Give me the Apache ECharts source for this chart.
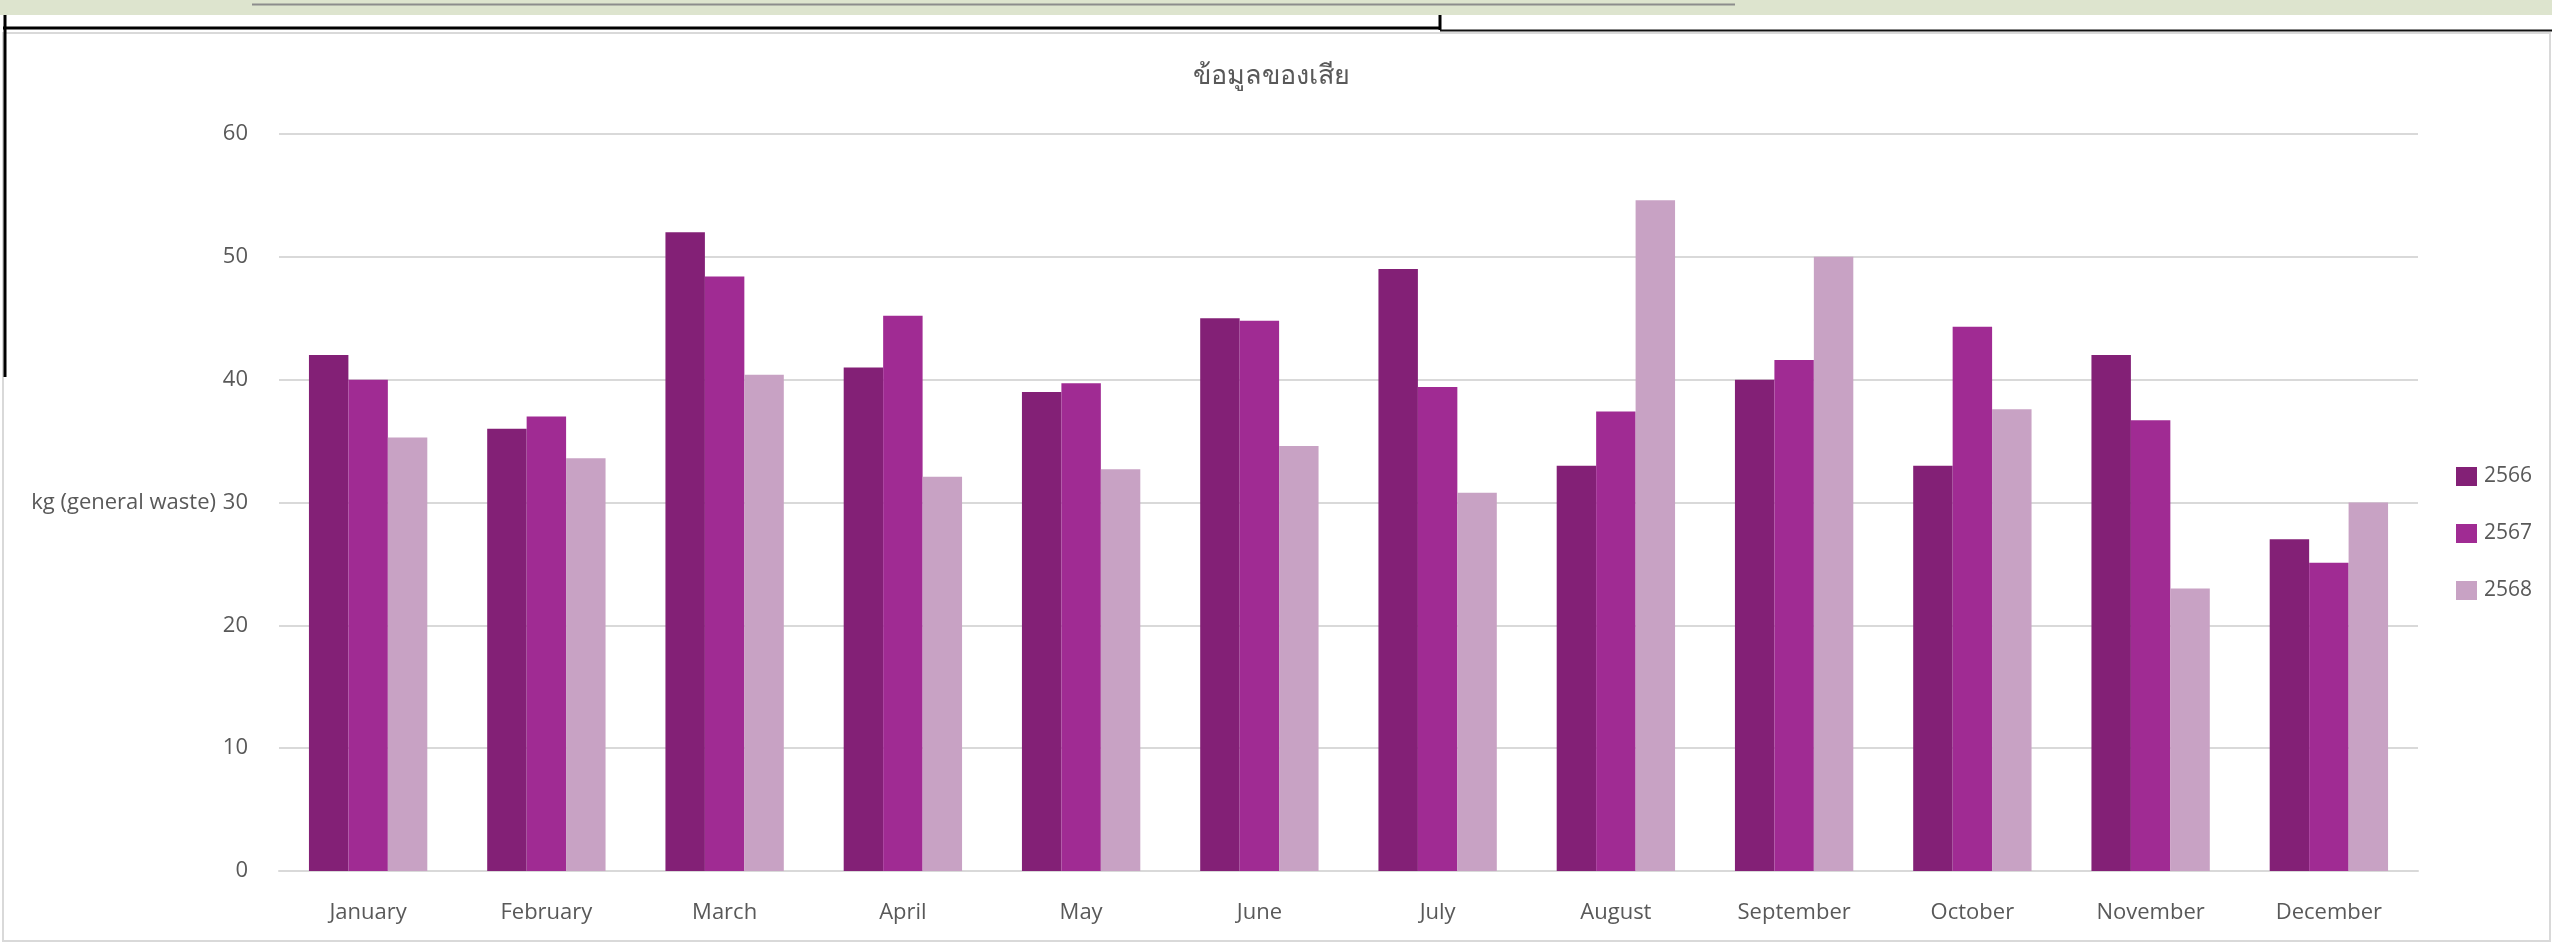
<!DOCTYPE html>
<html>
<head>
<meta charset="utf-8">
<script src="https://cdn.jsdelivr.net/npm/echarts@6/dist/echarts.min.js"></script>
<style>
html,body{margin:0;padding:0;background:#fff;}
#chart{width:2552px;height:946px;}
</style>
</head>
<body>
<div id="chart"></div>
<script>
const titleText = 'ข้อมูลของเสีย';
const yAxisTitle = 'kg (general waste)';
const months = ['January','February','March','April','May','June','July','August','September','October','November','December'];
const seriesNames = ['2566','2567','2568'];
const values2566 = [42, 36, 52, 41, 39, 45, 49, 33, 40, 33, 42, 27];
const values2567 = [40, 37, 48.4, 45.2, 39.7, 44.8, 39.4, 37.4, 41.6, 44.3, 36.7, 25.1];
const values2568 = [35.3, 33.6, 40.4, 32.1, 32.7, 34.6, 30.8, 54.6, 50, 37.6, 23, 30];
const colors = ['#832076', '#A02B93', '#C8A2C4'];

const fontFam = '"Open Sans", "Noto Sans", "DejaVu Sans", sans-serif';
const chart = echarts.init(document.getElementById('chart'), null, {renderer:'canvas'});
const allValues = [values2566, values2567, values2568];

chart.setOption({
  backgroundColor: '#ffffff',
  animation: false,
  color: colors,
  title: {
    text: titleText,
    left: 1266, top: 58,
    textAlign: 'center',
    textStyle: {color: '#595959', fontSize: 27, fontWeight: 'normal', fontFamily: fontFam}
  },
  legend: {
    orient: 'vertical',
    left: 2451, top: 461,
    itemWidth: 21, itemHeight: 19, itemGap: 36,
    icon: 'rect',
    textStyle: {color: '#595959', fontSize: 21, fontFamily: fontFam, padding: [0,0,0,2]},
    data: seriesNames
  },
  grid: {left: 279, right: 134, top: 134, bottom: 75, containLabel: false},
  xAxis: {
    type: 'category',
    data: months,
    axisLine: {show: true, lineStyle: {color: '#d9d9d9', width: 2}},
    axisTick: {show: false},
    axisLabel: {color: '#595959', fontSize: 22, fontFamily: fontFam, margin: 31}
  },
  yAxis: {
    type: 'value',
    min: 0, max: 60, interval: 10,
    name: yAxisTitle,
    nameLocation: 'middle',
    nameRotate: 0,
    nameGap: 63,
    nameTextStyle: {color: '#595959', fontSize: 22, fontFamily: fontFam, align: 'right', verticalAlign: 'middle'},
    axisLine: {show: false},
    axisTick: {show: false},
    axisLabel: {color: '#595959', fontSize: 22, fontFamily: fontFam, margin: 31},
    splitLine: {lineStyle: {color: '#d9d9d9', width: 2}}
  },
  series: seriesNames.map((n, i) => ({
    name: n,
    type: 'bar',
    data: allValues[i],
    barGap: '0%',
    barCategoryGap: '33.6%',
    itemStyle: {color: colors[i]}
  })),
  graphic: [
    {type: 'rect', shape: {x: 0, y: 0, width: 2552, height: 15}, style: {fill: '#DDE4CE'}, silent: true},
    {type: 'line', shape: {x1: 252, y1: 4.5, x2: 1735, y2: 4.5}, style: {stroke: '#8c8c8c', lineWidth: 2}, silent: true},
    {type: 'rect', shape: {x: 3, y: 33, width: 2547, height: 908}, style: {fill: 'none', stroke: '#d9d9d9', lineWidth: 2}, silent: true},
    {type: 'line', shape: {x1: 5, y1: 15, x2: 5, y2: 377}, style: {stroke: '#000', lineWidth: 3}, silent: true},
    {type: 'line', shape: {x1: 3, y1: 28, x2: 1441, y2: 28}, style: {stroke: '#000', lineWidth: 3}, silent: true},
    {type: 'line', shape: {x1: 1440, y1: 15, x2: 1440, y2: 30}, style: {stroke: '#000', lineWidth: 3}, silent: true},
    {type: 'line', shape: {x1: 1440, y1: 30.5, x2: 2552, y2: 30.5}, style: {stroke: '#111', lineWidth: 2}, silent: true}
  ]
});
</script>
</body>
</html>
